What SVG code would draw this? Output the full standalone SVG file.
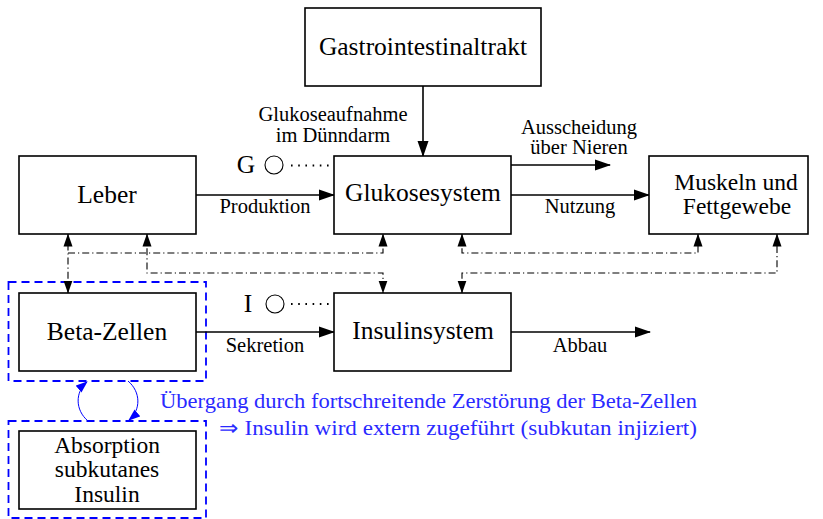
<svg xmlns="http://www.w3.org/2000/svg" width="823" height="519" viewBox="0 0 823 519">
<defs>
<marker id="ah" markerUnits="userSpaceOnUse" markerWidth="16" markerHeight="12" refX="15" refY="6" orient="auto-start-reverse"><path d="M0,0.5 L16,6 L0,11.5 z" fill="#000"/></marker>
<marker id="ahs" markerUnits="userSpaceOnUse" markerWidth="13" markerHeight="10" refX="12.5" refY="5" orient="auto-start-reverse"><path d="M0,0.5 L13,5 L0,9.5 z" fill="#000"/></marker>
<marker id="ahb" markerUnits="userSpaceOnUse" markerWidth="12" markerHeight="10" refX="11" refY="5" orient="auto"><path d="M0,0.5 L12,5 L0,9.5 z" fill="#0000ff"/></marker>
</defs>
<style>
.box{fill:#fff;stroke:#000;stroke-width:1.6}
.main{font-family:"Liberation Serif","Times New Roman",serif;font-size:25.5px;fill:#000;text-anchor:middle}
.ml{font-size:23.5px}
.lbl{font-family:"Liberation Serif","Times New Roman",serif;font-size:20.5px;fill:#000;text-anchor:middle}
.blue{font-family:"Liberation Serif","Times New Roman",serif;font-size:21px;fill:#2a2aff}
.arr{fill:none;stroke:#000;stroke-width:1.6;marker-end:url(#ah)}
.dd{fill:none;stroke:#000;stroke-width:1.1;stroke-dasharray:7 3 1.2 3}
.dot{fill:none;stroke:#000;stroke-width:1.8;stroke-dasharray:1.6 5.6}
.bdash{fill:none;stroke:#0000ff;stroke-width:1.8;stroke-dasharray:8 5}
.barr{fill:none;stroke:#0000ff;stroke-width:1;marker-end:url(#ahb)}
</style>
<rect width="823" height="519" fill="#fff"/>

<g id="regions">
<rect class="bdash" x="8.5" y="282" width="197.5" height="99"/>
<rect class="bdash" x="8.5" y="421" width="197.5" height="97"/>
</g>

<g id="connectors">
<path class="arr" d="M423,86 V156"/>
<path class="arr" d="M196,195 H334"/>
<path class="arr" d="M511,165 H610"/>
<path class="arr" d="M511,195 H649"/>
<path class="arr" d="M196,332 H334"/>
<path class="arr" d="M511,332 H650"/>
<path class="dot" d="M291,165.5 H334"/>
<path class="dot" d="M291,304 H334"/>
<path class="dd" d="M68,293 V234" marker-start="url(#ahs)" marker-end="url(#ahs)"/>
<path class="dd" d="M68,253 H383 V234" marker-end="url(#ahs)"/>
<path class="dd" d="M147,234 V273 H383 V293" marker-start="url(#ahs)" marker-end="url(#ahs)"/>
<path class="dd" d="M462,234 V253 H698 V234" marker-start="url(#ahs)" marker-end="url(#ahs)"/>
<path class="dd" d="M462,293 V273 H777 V234" marker-start="url(#ahs)" marker-end="url(#ahs)"/>
<path class="barr" d="M88,421 C75,410 75,392 87,382"/>
<path class="barr" d="M128,381 C141,392 141,410 129,420"/>
<text class="lbl" x="333" y="121">Glukoseaufnahme</text>
<text class="lbl" x="333" y="142">im Dünndarm</text>
<text class="lbl" x="265" y="213">Produktion</text>
<text class="lbl" x="579" y="134">Ausscheidung</text>
<text class="lbl" x="579" y="154">über Nieren</text>
<text class="lbl" x="580" y="213">Nutzung</text>
<text class="lbl" x="265" y="352">Sekretion</text>
<text class="lbl" x="580" y="352">Abbau</text>
<text class="blue" x="160" y="408" textLength="537" lengthAdjust="spacingAndGlyphs">Übergang durch fortschreitende Zerstörung der Beta-Zellen</text>
<text class="blue" x="219" y="435" textLength="478" lengthAdjust="spacingAndGlyphs">⇒ Insulin wird extern zugeführt (subkutan injiziert)</text>
</g>

<g id="gastro">
<rect class="box" x="305" y="8" width="236" height="78"/>
<text class="main" x="423" y="55">Gastrointestinaltrakt</text>
</g>
<g id="leber">
<rect class="box" x="19" y="156" width="177" height="78"/>
<text class="main" x="107" y="203">Leber</text>
</g>
<g id="glukosesystem">
<rect class="box" x="334" y="156" width="177" height="78"/>
<text class="main" x="423" y="201">Glukosesystem</text>
</g>
<g id="g-input">
<text class="main" x="246" y="173">G</text>
<circle cx="274" cy="165" r="9" fill="none" stroke="#000" stroke-width="1.1"/>
</g>
<g id="muskeln">
<rect class="box" x="649" y="156" width="159" height="78"/>
<text class="main ml" x="736" y="190">Muskeln und</text>
<text class="main ml" x="737" y="214">Fettgewebe</text>
</g>
<g id="betazellen">
<rect class="box" x="19" y="293" width="177" height="78"/>
<text class="main" x="107" y="340">Beta-Zellen</text>
</g>
<g id="insulinsystem">
<rect class="box" x="334" y="293" width="177" height="78"/>
<text class="main" x="423" y="339">Insulinsystem</text>
</g>
<g id="i-input">
<text class="main" x="248" y="312">I</text>
<circle cx="275" cy="304" r="9" fill="none" stroke="#000" stroke-width="1.1"/>
</g>
<g id="absorption">
<rect class="box" x="19" y="431" width="177" height="78"/>
<text class="main ml" x="107" y="453">Absorption</text>
<text class="main ml" x="107" y="477">subkutanes</text>
<text class="main ml" x="107" y="502">Insulin</text>
</g>
</svg>
